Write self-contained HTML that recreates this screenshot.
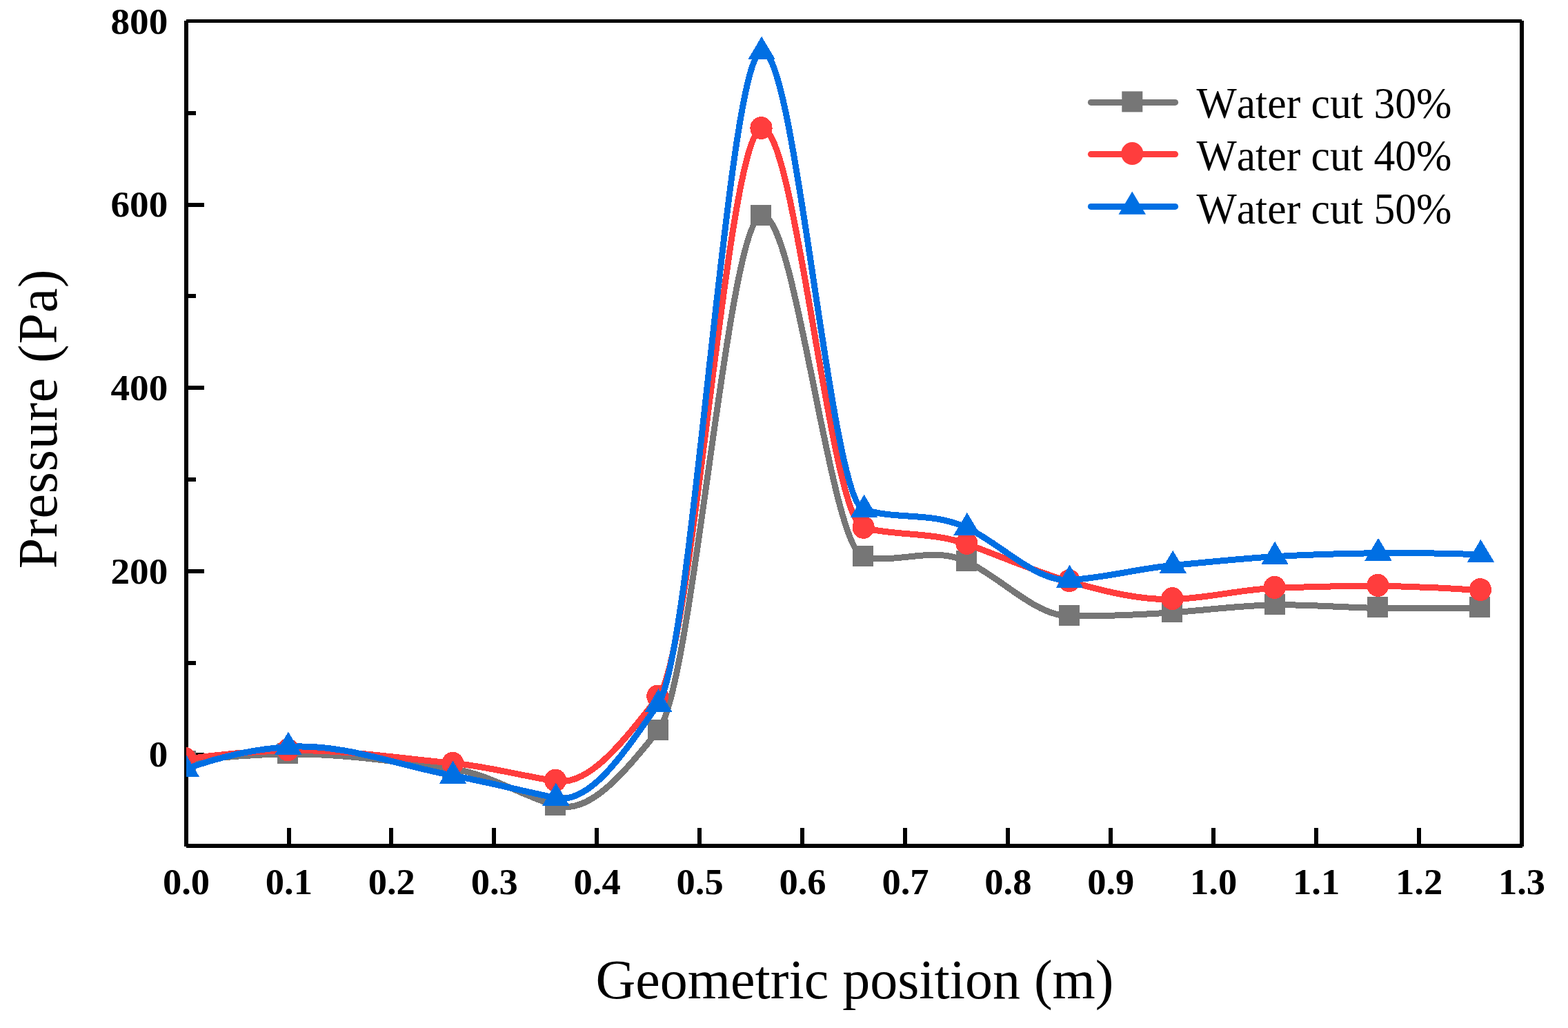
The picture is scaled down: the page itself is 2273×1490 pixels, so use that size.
<!DOCTYPE html>
<html lang="en"><head><meta charset="utf-8"><title>Pressure vs geometric position</title>
<style>
html,body{margin:0;padding:0;background:#fff;}
body{width:2273px;height:1490px;overflow:hidden;}
svg{display:block;position:absolute;left:0;top:0;}
text{font-family:"Liberation Serif","Times New Roman",serif;fill:#000;font-kerning:none;}
.tick{font-weight:bold;font-size:53px;}
.title{font-size:80px;}
.leg{font-size:61.7px;}
</style></head><body>
<svg width="2273" height="1490" viewBox="0 0 2273 1490">
<rect width="2273" height="1490" fill="#fff"/>
<defs><clipPath id="plot"><rect x="270.0" y="30.5" width="1936.0" height="1195.5"/></clipPath></defs>

<g fill="#000" shape-rendering="crispEdges">
<rect x="270.0" y="1091" width="26" height="6"/>
<rect x="270.0" y="958" width="14" height="6"/>
<rect x="270.0" y="825" width="26" height="6"/>
<rect x="270.0" y="692" width="14" height="6"/>
<rect x="270.0" y="559" width="26" height="6"/>
<rect x="270.0" y="426" width="14" height="6"/>
<rect x="270.0" y="294" width="26" height="6"/>
<rect x="270.0" y="161" width="14" height="6"/>
<rect x="416" y="1200.0" width="6" height="26"/>
<rect x="564" y="1200.0" width="6" height="26"/>
<rect x="713" y="1200.0" width="6" height="26"/>
<rect x="862" y="1200.0" width="6" height="26"/>
<rect x="1011" y="1200.0" width="6" height="26"/>
<rect x="1160" y="1200.0" width="6" height="26"/>
<rect x="1309" y="1200.0" width="6" height="26"/>
<rect x="1458" y="1200.0" width="6" height="26"/>
<rect x="1607" y="1200.0" width="6" height="26"/>
<rect x="1756" y="1200.0" width="6" height="26"/>
<rect x="1905" y="1200.0" width="6" height="26"/>
<rect x="2054" y="1200.0" width="6" height="26"/>
</g>
<g fill="#000" shape-rendering="crispEdges"><rect x="267" y="30" width="6" height="1197"/><rect x="2203" y="30" width="6" height="1197"/><rect x="270" y="28" width="1936" height="5"/><rect x="270" y="1223" width="1937" height="6"/></g>
<g clip-path="url(#plot)" shape-rendering="crispEdges">
<path d="M269.30,1104.00C318.94,1097.19 368.58,1093.53 418.22,1093.00C497.65,1092.16 577.07,1104.63 656.50,1114.60C706.14,1120.83 755.78,1153.08 805.42,1167.60C855.06,1182.12 904.71,1119.58 954.35,1058.80C1003.99,998.02 1053.63,327.43 1103.27,313.00C1152.91,298.57 1202.55,795.67 1252.19,806.90C1301.83,818.13 1351.47,790.86 1401.12,813.70C1450.76,836.54 1500.40,892.48 1550.04,892.90C1599.68,893.32 1649.32,891.16 1698.96,887.80C1748.60,884.44 1798.24,877.54 1847.88,876.80C1897.53,876.06 1947.17,880.63 1996.81,881.40C2046.45,882.17 2096.09,882.17 2145.73,881.40" fill="none" stroke="#767676" stroke-width="9" stroke-linejoin="round" stroke-linecap="round"/>
<rect x="254.0" y="1088.0" width="30" height="30" fill="#767676"/>
<rect x="402.0" y="1077.0" width="30" height="30" fill="#767676"/>
<rect x="641.0" y="1101.5" width="30" height="30" fill="#767676"/>
<rect x="789.9" y="1151.6" width="30" height="30" fill="#767676"/>
<rect x="939.1" y="1042.8" width="30" height="30" fill="#767676"/>
<rect x="1088.1" y="297.0" width="30" height="30" fill="#767676"/>
<rect x="1236.4" y="790.9" width="30" height="30" fill="#767676"/>
<rect x="1386.0" y="797.7" width="30" height="30" fill="#767676"/>
<rect x="1534.6" y="876.9" width="30" height="30" fill="#767676"/>
<rect x="1684.2" y="871.8" width="30" height="30" fill="#767676"/>
<rect x="1832.6" y="860.8" width="30" height="30" fill="#767676"/>
<rect x="1982.0" y="865.4" width="30" height="30" fill="#767676"/>
<rect x="2130.0" y="865.4" width="30" height="30" fill="#767676"/>
<path d="M269.30,1100.30C318.94,1093.06 368.58,1088.89 418.22,1087.80C497.65,1086.06 577.07,1098.99 656.50,1106.20C706.14,1110.70 755.78,1124.46 805.42,1132.10C855.06,1139.74 904.71,1073.14 954.35,1010.20C1003.99,947.26 1053.63,200.16 1103.27,186.50C1152.91,172.84 1202.55,753.57 1252.19,765.30C1301.83,777.03 1351.47,770.81 1401.12,788.40C1450.76,805.99 1500.40,828.63 1550.04,842.70C1599.68,856.77 1649.32,869.55 1698.96,868.60C1748.60,867.65 1798.24,854.19 1847.88,852.40C1897.53,850.61 1947.17,848.87 1996.81,849.40C2046.45,849.93 2096.09,852.00 2145.73,855.60" fill="none" stroke="#ff3d3d" stroke-width="9" stroke-linejoin="round" stroke-linecap="round"/>
<ellipse cx="268.2" cy="1099.3" rx="16.1" ry="16.5" fill="#ff3d3d"/>
<ellipse cx="417.3" cy="1086.8" rx="16.1" ry="16.5" fill="#ff3d3d"/>
<ellipse cx="656.4" cy="1106.4" rx="16.1" ry="16.5" fill="#ff3d3d"/>
<ellipse cx="805.1" cy="1131.1" rx="16.1" ry="16.5" fill="#ff3d3d"/>
<ellipse cx="953.3" cy="1009.2" rx="16.1" ry="16.5" fill="#ff3d3d"/>
<ellipse cx="1103.5" cy="185.5" rx="16.1" ry="16.5" fill="#ff3d3d"/>
<ellipse cx="1251.6" cy="764.3" rx="16.1" ry="16.5" fill="#ff3d3d"/>
<ellipse cx="1401.4" cy="787.4" rx="16.1" ry="16.5" fill="#ff3d3d"/>
<ellipse cx="1550.0" cy="841.7" rx="16.1" ry="16.5" fill="#ff3d3d"/>
<ellipse cx="1699.5" cy="867.6" rx="16.1" ry="16.5" fill="#ff3d3d"/>
<ellipse cx="1847.6" cy="851.4" rx="16.1" ry="16.5" fill="#ff3d3d"/>
<ellipse cx="1997.3" cy="848.4" rx="16.1" ry="16.5" fill="#ff3d3d"/>
<ellipse cx="2145.9" cy="854.6" rx="16.1" ry="16.5" fill="#ff3d3d"/>
<path d="M269.30,1114.70C318.94,1096.51 368.58,1085.77 418.22,1082.50C497.65,1077.27 577.07,1109.36 656.50,1124.10C706.14,1133.31 755.78,1146.14 805.42,1156.50C855.06,1166.86 904.71,1091.28 954.35,1020.30C1003.99,949.32 1053.63,89.87 1103.27,74.70C1152.91,59.53 1202.55,723.64 1252.19,738.70C1301.83,753.76 1351.47,741.59 1401.12,764.70C1450.76,787.81 1500.40,843.09 1550.04,840.60C1599.68,838.11 1649.32,824.10 1698.96,819.60C1748.60,815.10 1798.24,809.59 1847.88,806.70C1897.53,803.81 1947.17,802.20 1996.81,801.70C2046.45,801.20 2096.09,801.87 2145.73,803.70" fill="none" stroke="#006fe3" stroke-width="9" stroke-linejoin="round" stroke-linecap="round"/>
<polygon points="269.3,1092.8 289.1,1126.0 249.6,1126.0" fill="#006fe3"/>
<polygon points="417.9,1060.6 437.6,1093.8 398.1,1093.8" fill="#006fe3"/>
<polygon points="656.5,1102.6 676.2,1135.8 636.8,1135.8" fill="#006fe3"/>
<polygon points="805.9,1134.6 825.6,1167.8 786.1,1167.8" fill="#006fe3"/>
<polygon points="954.5,998.4 974.2,1031.6 934.8,1031.6" fill="#006fe3"/>
<polygon points="1104.1,52.8 1123.8,86.0 1084.3,86.0" fill="#006fe3"/>
<polygon points="1252.6,716.8 1272.3,750.0 1232.8,750.0" fill="#006fe3"/>
<polygon points="1401.9,742.8 1421.7,776.0 1382.2,776.0" fill="#006fe3"/>
<polygon points="1550.5,818.7 1570.2,851.9 1530.8,851.9" fill="#006fe3"/>
<polygon points="1700.2,797.7 1720.0,830.9 1680.5,830.9" fill="#006fe3"/>
<polygon points="1848.1,784.8 1867.8,818.0 1828.3,818.0" fill="#006fe3"/>
<polygon points="1998.0,779.8 2017.8,813.0 1978.2,813.0" fill="#006fe3"/>
<polygon points="2146.5,781.8 2166.2,815.0 2126.8,815.0" fill="#006fe3"/>
</g>
<text class="tick" transform="translate(243.3,1111.2) scale(1.043,1)" text-anchor="end">0</text>
<text class="tick" transform="translate(243.3,845.5) scale(1.043,1)" text-anchor="end">200</text>
<text class="tick" transform="translate(243.3,579.8) scale(1.043,1)" text-anchor="end">400</text>
<text class="tick" transform="translate(243.3,314.2) scale(1.043,1)" text-anchor="end">600</text>
<text class="tick" transform="translate(243.3,48.5) scale(1.043,1)" text-anchor="end">800</text>
<text class="tick" transform="translate(270.0,1295.5) scale(1.03,1)" text-anchor="middle">0.0</text>
<text class="tick" transform="translate(418.9,1295.5) scale(1.03,1)" text-anchor="middle">0.1</text>
<text class="tick" transform="translate(567.8,1295.5) scale(1.03,1)" text-anchor="middle">0.2</text>
<text class="tick" transform="translate(716.8,1295.5) scale(1.03,1)" text-anchor="middle">0.3</text>
<text class="tick" transform="translate(865.7,1295.5) scale(1.03,1)" text-anchor="middle">0.4</text>
<text class="tick" transform="translate(1014.6,1295.5) scale(1.03,1)" text-anchor="middle">0.5</text>
<text class="tick" transform="translate(1163.5,1295.5) scale(1.03,1)" text-anchor="middle">0.6</text>
<text class="tick" transform="translate(1312.5,1295.5) scale(1.03,1)" text-anchor="middle">0.7</text>
<text class="tick" transform="translate(1461.4,1295.5) scale(1.03,1)" text-anchor="middle">0.8</text>
<text class="tick" transform="translate(1610.3,1295.5) scale(1.03,1)" text-anchor="middle">0.9</text>
<text class="tick" transform="translate(1759.2,1295.5) scale(1.03,1)" text-anchor="middle">1.0</text>
<text class="tick" transform="translate(1908.2,1295.5) scale(1.03,1)" text-anchor="middle">1.1</text>
<text class="tick" transform="translate(2057.1,1295.5) scale(1.03,1)" text-anchor="middle">1.2</text>
<text class="tick" transform="translate(2206.0,1295.5) scale(1.03,1)" text-anchor="middle">1.3</text>
<text class="title" x="1239" y="1447" text-anchor="middle">Geometric position (m)</text>
<text class="title" transform="translate(82.3,606.9) rotate(-90)" text-anchor="middle" style="letter-spacing:0.8px">Pressure (Pa)</text>
<line x1="1581.4" y1="148.4" x2="1703.6" y2="148.4" stroke="#767676" stroke-width="9" stroke-linecap="round"/>
<rect x="1626.3" y="132.4" width="30" height="30" fill="#767676"/>
<text class="leg" transform="translate(1734.5,171.3) scale(1,1.03)">Water cut 30%</text>
<line x1="1581.4" y1="223.6" x2="1703.6" y2="223.6" stroke="#ff3d3d" stroke-width="9" stroke-linecap="round"/>
<ellipse cx="1641.3" cy="222.6" rx="16.1" ry="16.5" fill="#ff3d3d"/>
<text class="leg" transform="translate(1734.5,247.4) scale(1,1.03)">Water cut 40%</text>
<line x1="1581.4" y1="299.4" x2="1703.6" y2="299.4" stroke="#006fe3" stroke-width="9" stroke-linecap="round"/>
<polygon points="1641.2,277.5 1661.0,310.7 1621.5,310.7" fill="#006fe3"/>
<text class="leg" transform="translate(1734.5,323.5) scale(1,1.03)">Water cut 50%</text>
</svg></body></html>
